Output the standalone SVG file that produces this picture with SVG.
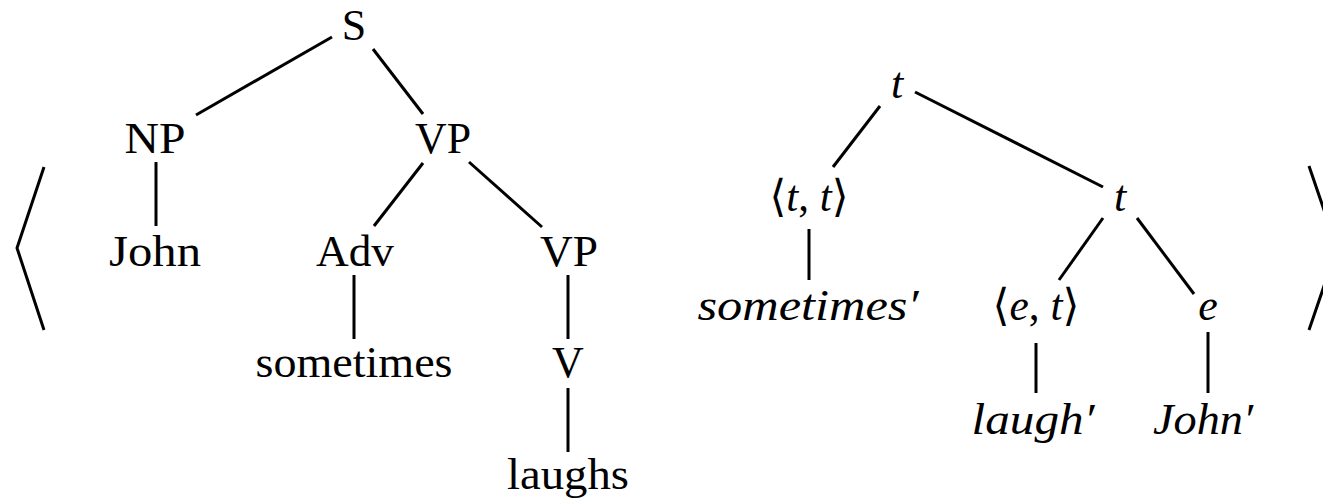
<svg xmlns="http://www.w3.org/2000/svg" width="1323" height="501" viewBox="0 0 1323 501">
<style>
.lbl{font-family:"Liberation Serif","DejaVu Serif",serif;font-size:44px;fill:#000;text-anchor:middle}
.it{font-style:italic}
.ln{stroke:#000;stroke-width:3;fill:none;stroke-linecap:butt}
</style>
<rect width="1323" height="501" fill="#fff"/>
<g id="brackets">
<polyline class="ln" points="44,167 17,248 44,330"/>
<polyline class="ln" points="1309,166 1337,248 1309,330"/>
</g>
<g id="connectors">
<line class="ln" x1="332" y1="37" x2="196" y2="115"/>
<line class="ln" x1="373" y1="49" x2="423" y2="114"/>
<line class="ln" x1="156" y1="162" x2="156" y2="226"/>
<line class="ln" x1="423" y1="163" x2="374" y2="226"/>
<line class="ln" x1="469" y1="162" x2="542" y2="227"/>
<line class="ln" x1="354" y1="275" x2="354" y2="339"/>
<line class="ln" x1="568" y1="275" x2="568" y2="339"/>
<line class="ln" x1="568" y1="388" x2="568" y2="452"/>
<line class="ln" x1="880" y1="106" x2="833" y2="167"/>
<line class="ln" x1="915" y1="92" x2="1103" y2="187"/>
<line class="ln" x1="809" y1="229" x2="809" y2="280"/>
<line class="ln" x1="1103" y1="218" x2="1059" y2="280"/>
<line class="ln" x1="1137" y1="218" x2="1194" y2="294"/>
<line class="ln" x1="1036" y1="343" x2="1036" y2="393"/>
<line class="ln" x1="1208" y1="332" x2="1208" y2="393"/>
</g>
<g id="n-S"><text class="lbl" x="354" y="40">S</text></g>
<g id="n-NP"><text class="lbl" x="155" y="153" textLength="61" lengthAdjust="spacingAndGlyphs">NP</text></g>
<g id="n-VP1"><text class="lbl" x="443" y="153" textLength="56" lengthAdjust="spacingAndGlyphs">VP</text></g>
<g id="n-John"><text class="lbl" x="155" y="266" textLength="92" lengthAdjust="spacingAndGlyphs">John</text></g>
<g id="n-Adv"><text class="lbl" x="355" y="266" textLength="78" lengthAdjust="spacingAndGlyphs">Adv</text></g>
<g id="n-VP2"><text class="lbl" x="569" y="266" textLength="58" lengthAdjust="spacingAndGlyphs">VP</text></g>
<g id="n-sometimes"><text class="lbl" x="354" y="377" textLength="197" lengthAdjust="spacingAndGlyphs">sometimes</text></g>
<g id="n-V"><text class="lbl" x="568" y="377">V</text></g>
<g id="n-laughs"><text class="lbl" x="568" y="489" textLength="122" lengthAdjust="spacingAndGlyphs">laughs</text></g>
<g id="n-t1"><text class="lbl it" x="897" y="98">t</text></g>
<g id="n-tt"><text class="lbl" x="809" y="211" textLength="79" lengthAdjust="spacingAndGlyphs">⟨<tspan class="it">t</tspan>, <tspan class="it">t</tspan>⟩</text></g>
<g id="n-t2"><text class="lbl it" x="1120" y="211">t</text></g>
<g id="n-sometimes2"><text class="lbl it" x="808" y="320" textLength="221" lengthAdjust="spacingAndGlyphs">sometimes′</text></g>
<g id="n-et"><text class="lbl" x="1036" y="320" textLength="87" lengthAdjust="spacingAndGlyphs">⟨<tspan class="it">e</tspan>, <tspan class="it">t</tspan>⟩</text></g>
<g id="n-e"><text class="lbl it" x="1208" y="320">e</text></g>
<g id="n-laugh"><text class="lbl it" x="1033" y="434" textLength="123" lengthAdjust="spacingAndGlyphs">laugh′</text></g>
<g id="n-John2"><text class="lbl it" x="1203" y="434" textLength="100" lengthAdjust="spacingAndGlyphs">John′</text></g>
</svg>
